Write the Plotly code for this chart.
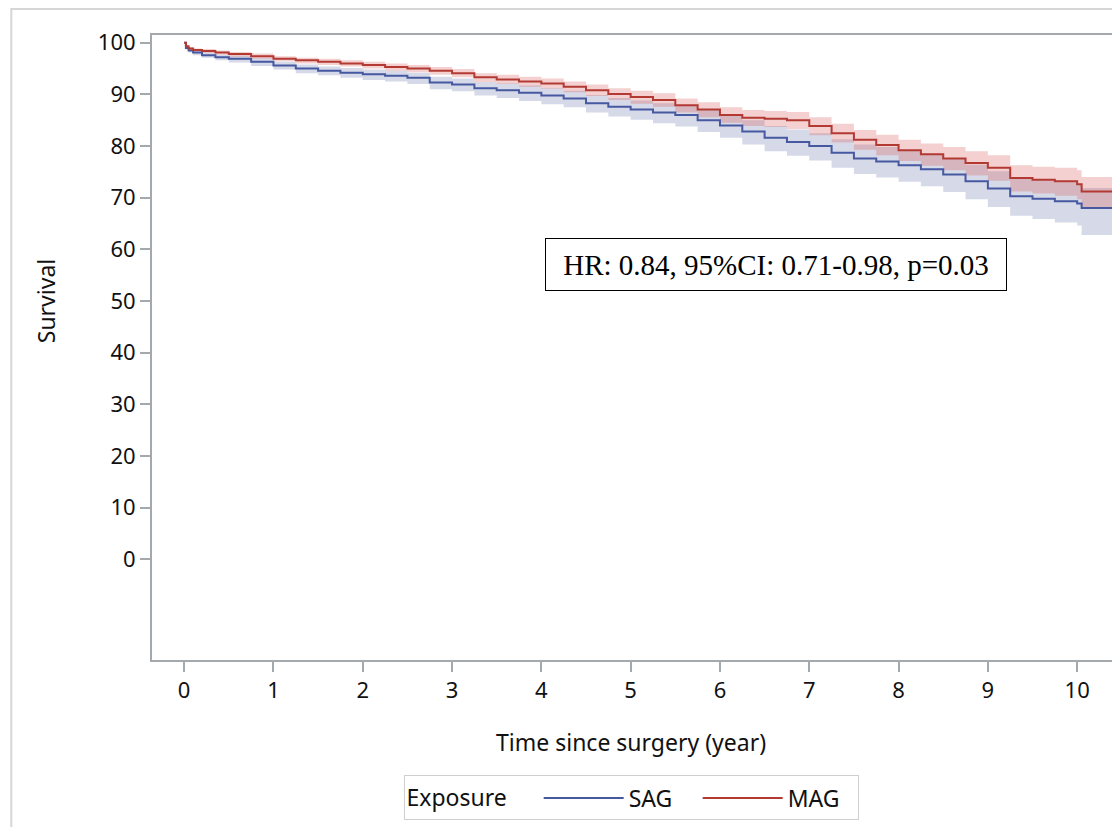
import plotly.graph_objects as go

# ---- data ----
time_mag = [0, 0.02, 0.05, 0.1, 0.2, 0.35, 0.5, 0.75, 1.0, 1.25, 1.5, 1.75, 2.0, 2.25, 2.5, 2.75,
            3.0, 3.25, 3.5, 3.75, 4.0, 4.25, 4.5, 4.75, 5.0, 5.25, 5.5, 5.75, 6.0, 6.25, 6.5, 6.75,
            7.0, 7.25, 7.5, 7.75, 8.0, 8.25, 8.5, 8.75, 9.0, 9.25, 9.5, 9.75, 10.0, 10.05, 10.39]
surv_mag = [100, 99.3, 98.9, 98.6, 98.4, 98.1, 97.8, 97.4, 96.9, 96.6, 96.3, 96.0, 95.7, 95.3, 95.0, 94.6,
            94.1, 93.3, 92.9, 92.5, 92.1, 91.5, 90.8, 90.1, 89.5, 88.9, 87.9, 87.1, 86.0, 85.5, 85.3, 85.0,
            83.9, 82.5, 81.2, 80.2, 79.2, 78.4, 77.6, 76.7, 75.8, 73.8, 73.5, 73.2, 72.6, 71.2, 71.2]
lo_mag = [100, 99.1, 98.6, 98.3, 98.0, 97.7, 97.3, 96.9, 96.4, 96.0, 95.7, 95.4, 95.0, 94.6, 94.3, 93.8,
          93.3, 92.4, 92.0, 91.5, 91.1, 90.4, 89.7, 88.9, 88.2, 87.6, 86.5, 85.6, 84.5, 83.9, 83.7, 83.3,
          82.1, 80.7, 79.3, 78.2, 77.1, 76.2, 75.3, 74.3, 73.3, 71.2, 70.8, 70.4, 69.7, 68.2, 68.2]
hi_mag = [100, 99.5, 99.2, 98.9, 98.8, 98.5, 98.2, 97.9, 97.4, 97.1, 96.9, 96.6, 96.3, 96.0, 95.7, 95.3,
          94.9, 94.1, 93.8, 93.4, 93.1, 92.5, 91.9, 91.2, 90.7, 90.2, 89.2, 88.5, 87.5, 87.0, 86.8, 86.6,
          85.6, 84.3, 83.1, 82.2, 81.2, 80.5, 79.8, 79.0, 78.2, 76.3, 76.0, 75.8, 75.3, 74.0, 74.0]

time_sag = [0, 0.02, 0.05, 0.1, 0.2, 0.35, 0.5, 0.75, 1.0, 1.25, 1.5, 1.75, 2.0, 2.25, 2.5, 2.75,
            3.0, 3.25, 3.5, 3.75, 4.0, 4.25, 4.5, 4.75, 5.0, 5.25, 5.5, 5.75, 6.0, 6.25, 6.5, 6.75,
            7.0, 7.25, 7.5, 7.75, 8.0, 8.25, 8.5, 8.75, 9.0, 9.25, 9.5, 9.75, 10.0, 10.05, 10.39]
surv_sag = [100, 99.0, 98.5, 98.1, 97.6, 97.2, 96.9, 96.3, 95.6, 95.0, 94.6, 94.2, 93.9, 93.6, 93.2, 92.3,
            91.9, 91.2, 90.8, 90.3, 89.8, 89.2, 88.3, 87.6, 87.1, 86.5, 86.0, 85.0, 84.0, 82.8, 81.6, 80.8,
            80.0, 78.7, 77.6, 77.0, 76.3, 75.5, 74.5, 73.2, 71.8, 70.3, 69.8, 69.3, 68.9, 68.0, 68.0]
lo_sag = [100, 98.7, 98.1, 97.6, 97.1, 96.6, 96.2, 95.5, 94.8, 94.1, 93.7, 93.2, 92.8, 92.5, 92.0, 91.0,
          90.6, 89.8, 89.3, 88.7, 88.1, 87.5, 86.5, 85.7, 85.1, 84.4, 83.8, 82.7, 81.6, 80.3, 79.0, 78.1,
          77.2, 75.8, 74.6, 73.9, 73.1, 72.2, 71.1, 69.7, 68.2, 66.5, 65.9, 65.2, 64.6, 62.8, 62.8]
hi_sag = [100, 99.3, 98.9, 98.5, 98.1, 97.7, 97.5, 97.0, 96.3, 95.8, 95.4, 95.1, 94.8, 94.6, 94.2, 93.4,
          93.1, 92.4, 92.1, 91.7, 91.2, 90.7, 89.9, 89.3, 88.8, 88.3, 87.9, 87.0, 86.1, 85.0, 83.9, 83.2,
          82.5, 81.3, 80.3, 79.8, 79.2, 78.5, 77.6, 76.4, 75.1, 73.8, 73.4, 73.0, 72.7, 71.9, 71.9]

group_names = ["SAG", "MAG"]
y_ticks = [0, 10, 20, 30, 40, 50, 60, 70, 80, 90, 100]
x_ticks = [0, 1, 2, 3, 4, 5, 6, 7, 8, 9, 10]
hr_text = "HR: 0.84, 95%CI: 0.71-0.98, p=0.03"

# ---- styles ----
BLUE = "#4558a0"
RED = "#b23a33"
BLUE_FILL = "rgba(68,86,150,0.22)"
RED_FILL = "rgba(215,80,80,0.27)"
AX = "#a3a9ad"
FONT = "Noto Sans"
TXT = "#111"

fig = go.Figure()

# confidence bands
fig.add_trace(go.Scatter(x=time_sag, y=lo_sag, mode="lines", line=dict(width=0, shape="hv"),
                         showlegend=False, hoverinfo="skip"))
fig.add_trace(go.Scatter(x=time_sag, y=hi_sag, mode="lines", line=dict(width=0, shape="hv"),
                         fill="tonexty", fillcolor=BLUE_FILL, showlegend=False, hoverinfo="skip"))
fig.add_trace(go.Scatter(x=time_mag, y=lo_mag, mode="lines", line=dict(width=0, shape="hv"),
                         showlegend=False, hoverinfo="skip"))
fig.add_trace(go.Scatter(x=time_mag, y=hi_mag, mode="lines", line=dict(width=0, shape="hv"),
                         fill="tonexty", fillcolor=RED_FILL, showlegend=False, hoverinfo="skip"))

# survival curves
fig.add_trace(go.Scatter(x=time_sag, y=surv_sag, mode="lines", name=group_names[0],
                         line=dict(color=BLUE, width=2, shape="hv")))
fig.add_trace(go.Scatter(x=time_mag, y=surv_mag, mode="lines", name=group_names[1],
                         line=dict(color=RED, width=2, shape="hv")))

fig.update_xaxes(range=[-0.36, 10.39], tickvals=x_ticks, showline=True, linecolor=AX, linewidth=2,
                 mirror=True, ticks="outside", ticklen=10, tickwidth=2, tickcolor=AX,
                 showgrid=False, zeroline=False, tickfont=dict(family=FONT, size=22, color=TXT))
fig.update_yaxes(range=[-19.5, 101.5], tickvals=y_ticks, showline=True, linecolor=AX, linewidth=2,
                 mirror=True, ticks="outside", ticklen=10, tickwidth=2, tickcolor=AX,
                 showgrid=False, zeroline=False, tickfont=dict(family=FONT, size=22, color=TXT))

# page body has an 8px margin: work in reference-pixel coordinates and shift
OFF = 8
W, H = 1120 - OFF, 827 - OFF
PL, PR, PT, PB = 152, 1114, 35, 663  # plot area in reference pixels
L, T = PL - OFF, PT - OFF
R = W - (PR - OFF)
B = H - (PB - OFF)
pw, ph = W - L - R, H - T - B


def px_x(p):
    return (p - PL) / pw


def px_y(p):
    return (PB - p) / ph


annotations = [
    dict(text="Time since surgery (year)", xref="paper", yref="paper", x=px_x(632), y=px_y(745),
         showarrow=False, font=dict(family=FONT, size=23, color=TXT), xanchor="center", yanchor="middle"),
    dict(text="Survival", xref="paper", yref="y", x=px_x(46), y=50, textangle=-90,
         showarrow=False, font=dict(family=FONT, size=23, color=TXT), xanchor="center", yanchor="middle"),
    dict(text=hr_text, xref="paper", yref="paper", x=px_x(777), y=px_y(265.5),
         showarrow=False, font=dict(family="Liberation Serif", size=29, color="#000"),
         xanchor="center", yanchor="middle", bordercolor="#000", borderwidth=1, borderpad=1,
         bgcolor="white", width=458, height=49),
]

shapes = [
    dict(type="rect", xref="paper", yref="paper", x0=px_x(11), y0=px_y(840), x1=px_x(1130), y1=px_y(9),
         line=dict(color="#d6d6d6", width=2), fillcolor="rgba(0,0,0,0)", layer="below"),
]

fig.update_layout(
    width=W, height=H,
    margin=dict(l=L, r=R, t=T, b=B),
    paper_bgcolor="white", plot_bgcolor="white",
    annotations=annotations, shapes=shapes,
    legend=dict(orientation="h", x=px_x(632), xanchor="center", y=px_y(779), yanchor="top",
                traceorder="normal",
                bordercolor="#cfcfcf", borderwidth=1, bgcolor="white",
                font=dict(family=FONT, size=23, color=TXT),
                title=dict(text="Exposure    ", font=dict(family=FONT, size=23, color=TXT), side="left"),
                itemwidth=80, entrywidth=64),
)

fig.write_html("out.html")
